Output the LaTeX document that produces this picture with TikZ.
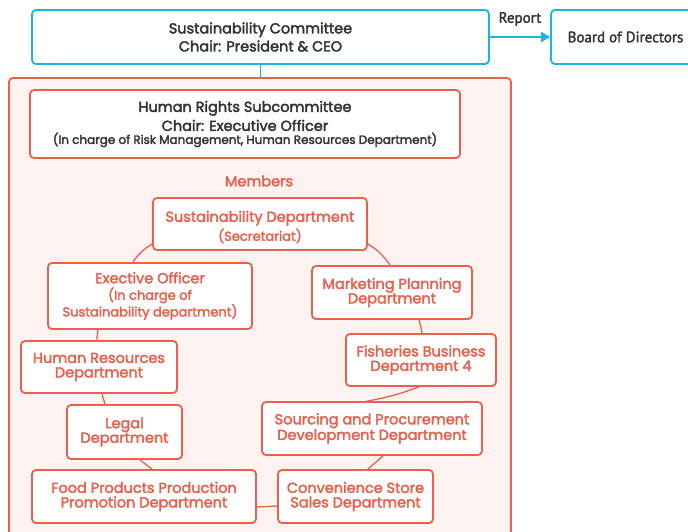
\documentclass[tikz,border=0pt]{standalone}
\usepackage{fontspec}
\setmainfont{Poppins}[FakeBold=2.5]
\newfontfamily\dk{PT Sans}[FakeBold=2]
\usetikzlibrary{arrows.meta}
\definecolor{cy}{HTML}{1DB3E2}
\definecolor{rd}{HTML}{E9604D}
\definecolor{pk}{HTML}{FFF3F2}
\definecolor{tx}{HTML}{333333}
\tikzset{
  box/.style={draw, rounded corners=4pt, line width=1.8pt, fill=white, align=center, inner sep=0pt},
  cybox/.style={box, draw=cy, text=tx, font=\fontsize{14.5}{18}\selectfont},
  rdbox/.style={box, draw=rd, text=rd, font=\fontsize{14.5}{14.5}\selectfont},
  conn/.style={draw=rd, line width=1.3pt},
}
\begin{document}
\begin{tikzpicture}[x=1pt,y=-1pt]
\path[use as bounding box, clip] (0,0) rectangle (688,531);
\node[box, draw=rd, fill=pk, minimum width=502pt, minimum height=467pt] (outer) at (260,311.5) {};
\node[cybox, minimum width=457pt, minimum height=54pt] (top) at (260.5,37) {Sustainability Committee\\Chair: President \& CEO};
\node[cybox, minimum width=149pt, minimum height=54pt, font=\dk\fontsize{15}{15}\selectfont] (board) at (625.5,37) {Board of Directors};
\draw[draw=cy, line width=1.8pt, -{Triangle[length=9pt,width=10pt]}] (top.east) -- (board.west) node[midway, above=7pt, text=tx, font=\dk\fontsize{15}{15}\selectfont] (rep) {Report};
\draw[draw=cy, line width=1.8pt] (top.south) -- (top.south |- outer.north);
\node[box, draw=rd, text=tx, minimum width=430pt, minimum height=68pt, font=\fontsize{14.5}{19}\selectfont] (hr) at (245,124) {Human Rights Subcommittee\\Chair: Executive Officer\\[-6pt]{\fontsize{12}{12}\selectfont (In charge of Risk Management, Human Resources Department)}};
\node[text=rd, font=\fontsize{14.5}{14}\selectfont] (mem) at (259,181) {Members};
\node[rdbox, minimum width=214pt, minimum height=52pt, font=\fontsize{14.5}{19}\selectfont] (sust) at (260,224) {};
\node[text=rd, align=center, inner sep=0pt, font=\fontsize{14.5}{19}\selectfont] (sustt) at ([yshift=-3pt]sust.center) {Sustainability Department\\{\fontsize{13}{13}\selectfont(Secretariat)}};
\node[rdbox, minimum width=204pt, minimum height=66pt] (exec) at (150,296) {Exective Officer\\[2pt]{\fontsize{13}{15}\selectfont (In charge of}\\{\fontsize{13}{15}\selectfont Sustainability department)}};
\node[rdbox, minimum width=160pt, minimum height=53pt] (mkt) at (392,292.5) {Marketing Planning\\Department};
\node[rdbox, minimum width=156pt, minimum height=52pt] (hrd) at (99,367) {Human Resources\\Department};
\node[rdbox, minimum width=150pt, minimum height=52pt] (fish) at (421,360) {Fisheries Business\\Department 4};
\node[rdbox, minimum width=115pt, minimum height=54pt] (legal) at (124.5,432) {Legal\\Department};
\node[rdbox, minimum width=220pt, minimum height=53pt] (src) at (372,428.5) {Sourcing and Procurement\\Development Department};
\node[rdbox, minimum width=224pt, minimum height=53pt] (food) at (144,496.5) {Food Products Production\\Promotion Department};
\node[rdbox, minimum width=155pt, minimum height=53pt] (conv) at (355.5,496.5) {Convenience Store\\Sales Department};
\draw[conn] ([yshift=-20pt]sust.west) to[bend right=12] ([xshift=-17pt]exec.north);
\draw[conn] ([yshift=-20pt]sust.east) to[bend left=12] ([xshift=-2pt]mkt.north);
\draw[conn] ([xshift=-52pt]exec.south) to[bend right=5] ([xshift=-2pt]hrd.north);
\draw[conn] ([xshift=3pt]hrd.south) -- ([xshift=-19.5pt]legal.north);
\draw[conn] ([xshift=15.5pt]legal.south) -- ([xshift=8pt]food.north);
\draw[conn] ([yshift=-10.5pt]food.east) -- ([yshift=-9.5pt]conv.west);
\draw[conn] ([xshift=27pt]mkt.south) to[bend left=5] ([xshift=1pt]fish.north);
\draw[conn] ([xshift=-2pt]fish.south) to[bend left=5] ([xshift=-5pt]src.north);
\draw[conn] ([xshift=11pt]src.south) -- ([xshift=12.5pt]conv.north);
\end{tikzpicture}
\end{document}
